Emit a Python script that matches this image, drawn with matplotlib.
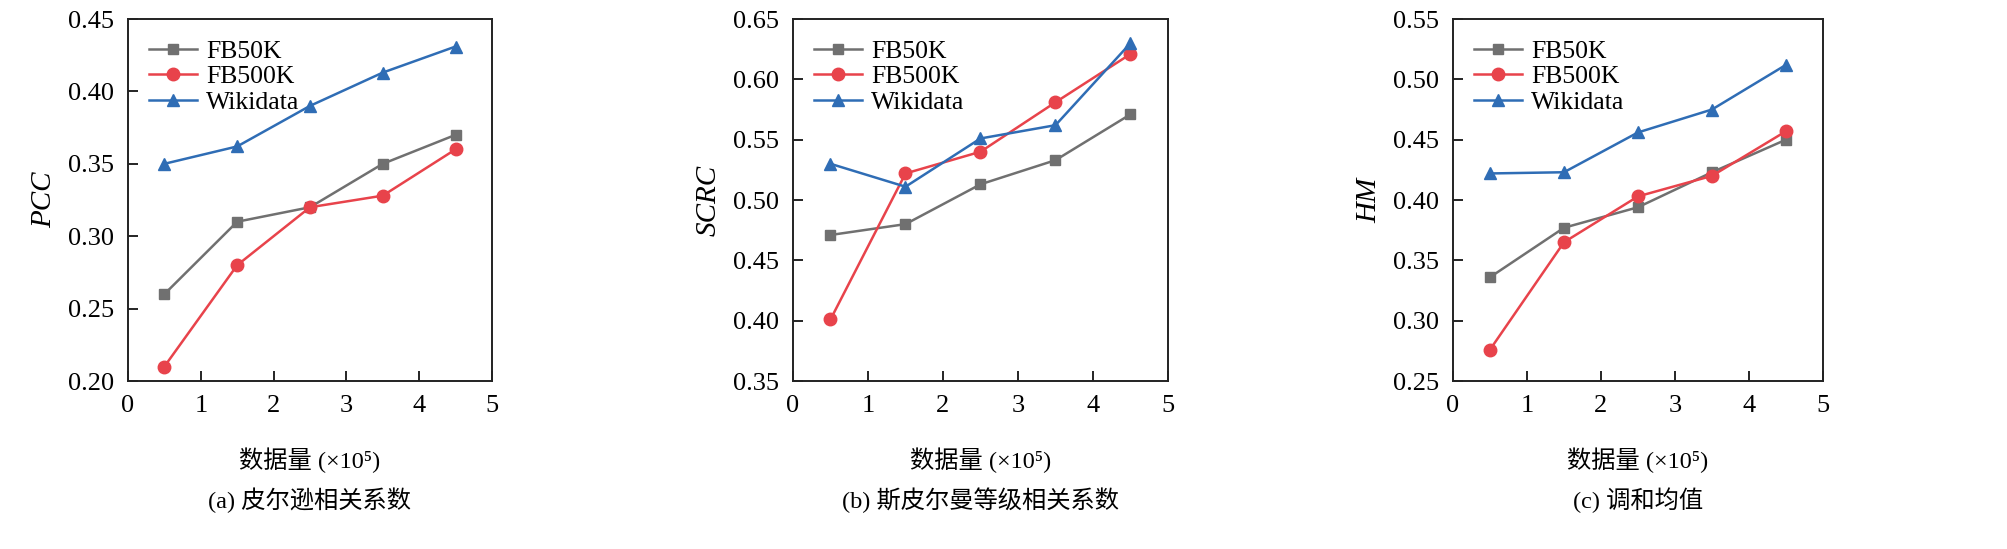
import numpy as np
import matplotlib
matplotlib.use('Agg')
import matplotlib.pyplot as plt

plt.rcParams['font.family'] = ['Liberation Serif', 'Noto Sans CJK SC']

# 数据
x = [0.5, 1.5, 2.5, 3.5, 4.5]
series_names = ['FB50K', 'FB500K', 'Wikidata']

pcc_fb50k = [0.26, 0.31, 0.32, 0.35, 0.37]
pcc_fb500k = [0.21, 0.28, 0.32, 0.328, 0.36]
pcc_wiki = [0.35, 0.362, 0.390, 0.413, 0.431]

scrc_fb50k = [0.471, 0.480, 0.513, 0.533, 0.571]
scrc_fb500k = [0.401, 0.522, 0.540, 0.581, 0.621]
scrc_wiki = [0.530, 0.511, 0.551, 0.562, 0.630]

hm_fb50k = [0.336, 0.377, 0.394, 0.423, 0.450]
hm_fb500k = [0.276, 0.365, 0.403, 0.420, 0.457]
hm_wiki = [0.422, 0.423, 0.456, 0.475, 0.512]

panels = [
    ('PCC', [pcc_fb50k, pcc_fb500k, pcc_wiki], (0.20, 0.45), '(a) 皮尔逊相关系数'),
    ('SCRC', [scrc_fb50k, scrc_fb500k, scrc_wiki], (0.35, 0.65), '(b) 斯皮尔曼等级相关系数'),
    ('HM', [hm_fb50k, hm_fb500k, hm_wiki], (0.25, 0.55), '(c) 调和均值'),
]

colors = ['#707070', '#e8434b', '#2f6db5']
markers = ['s', 'o', '^']
msizes = [7, 9, 9]

W, H = 2008, 549
fig = plt.figure(figsize=(W / 100, H / 100), dpi=100)

# 各子图的像素位置 (left, right)
lefts = [128, 793, 1453]
rights = [492, 1168, 1823]
top, bottom = 19, 381

for i, (ylab, data, ylim, caption) in enumerate(panels):
    ax = fig.add_axes([lefts[i] / W, 1 - bottom / H,
                       (rights[i] - lefts[i]) / W, (bottom - top) / H])
    for j, vals in enumerate(data):
        ax.plot(x, vals, color=colors[j], marker=markers[j], markersize=msizes[j],
                linewidth=1.8, label=series_names[j])
    ax.set_xlim(0, 5)
    ax.set_ylim(*ylim)
    yt = np.arange(ylim[0], ylim[1] + 0.001, 0.05)
    ax.set_yticks(yt)
    ax.set_yticklabels([f'{v:.2f}' for v in yt])
    ax.set_xticks([0, 1, 2, 3, 4, 5])
    ax.tick_params(direction='in', labelsize=19, length=7, width=1.2, pad=10)
    for s in ax.spines.values():
        s.set_linewidth(1.4)
        s.set_color('#222222')
    ax.set_ylabel(ylab, fontsize=21, style='italic', labelpad=8)
    ax.text(0.5, -0.22, '数据量 (×10⁵)', transform=ax.transAxes,
            ha='center', va='center', fontsize=17.5)
    ax.text(0.5, -0.33, caption, transform=ax.transAxes,
            ha='center', va='center', fontsize=17.5)
    ax.legend(loc='upper left', frameon=False, fontsize=18.5, handlelength=1.9,
              handletextpad=0.35, labelspacing=0.1, borderaxespad=0.4,
              bbox_to_anchor=(0.0, 1.0))

fig.savefig('out.png', dpi=100)
